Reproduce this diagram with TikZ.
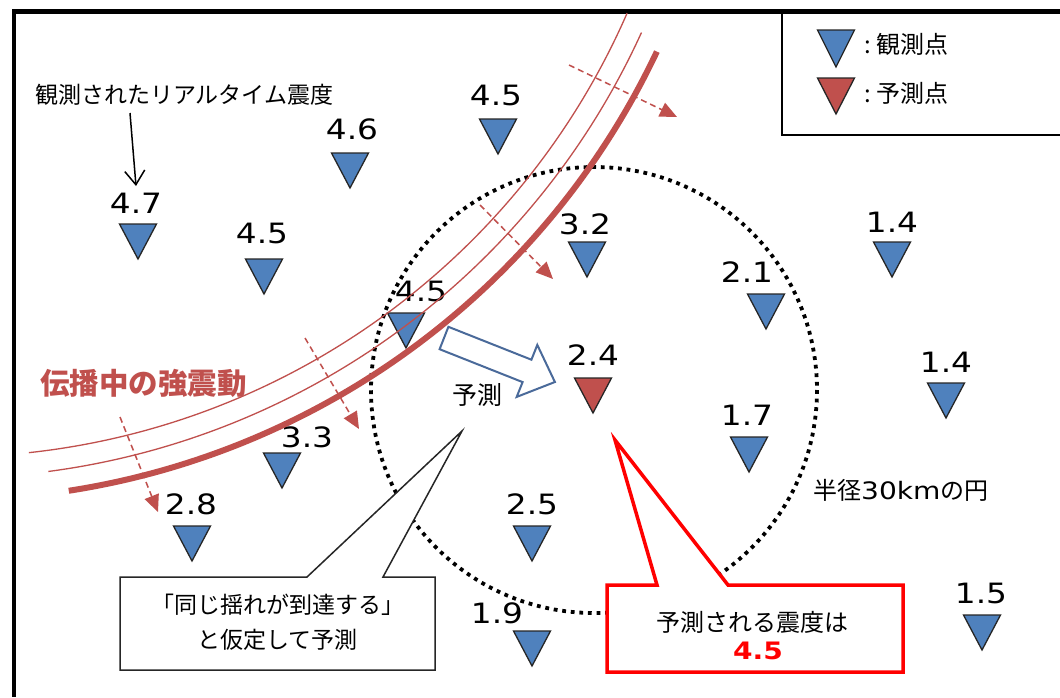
\documentclass[tikz,border=0pt]{standalone}
\usepackage{fontspec}
\newfontfamily\jp{Noto Sans CJK JP}
\newfontfamily\numf[FakeStretch=1.17]{DejaVu Sans}
\usetikzlibrary{arrows.meta,calc}
\definecolor{obsblue}{HTML}{4F81BD}
\definecolor{wavered}{HTML}{C0504D}
\definecolor{arrblue}{HTML}{4A6A9A}
\begin{document}
\begin{tikzpicture}[x=1pt,y=-1pt,
  tri/.style={draw=black!85,line width=1.3pt,line join=miter},
  obs/.pic={\path[tri,fill=obsblue] (-18.5,0) -- (18.5,0) -- (0,35) -- cycle;},
  pred/.pic={\path[tri,fill=wavered] (-18.5,0) -- (18.5,0) -- (0,35) -- cycle;},
  num/.style={font=\numf\fontsize{28}{30}\selectfont,anchor=base,inner sep=0pt},
  jpt/.style={font=\jp\fontsize{23}{28}\selectfont,inner sep=0pt},
  thinwave/.style={draw=wavered,line width=1.3pt},
  thickwave/.style={draw=wavered,line width=6pt},
  proparrow/.style={draw=wavered,line width=1.5pt,dash pattern=on 6pt off 4pt,-{Triangle[length=17pt,width=15pt]}},
  dotcircle/.style={draw=black,line width=3.8pt,dash pattern=on 3.8pt off 4.8pt},
  labarrow/.style={draw=black,line width=1.5pt,-{Straight Barb[length=14pt,width=20pt]}},
]
\useasboundingbox[fill=white] (0,0) rectangle (1060,697);

% frame
\draw[line width=5pt] (12,11) -- (1060,11);
\draw[line width=4.5pt] (14,9) -- (14,697);

% legend
\draw[line width=2pt] (782,11) -- (782,135) -- (1060,135);
\path[tri,fill=obsblue] (817.5,30) -- (854.5,30) -- (836,67) -- cycle;
\path[tri,fill=wavered] (817.5,78) -- (854.5,78) -- (836,114) -- cycle;
\node[jpt,font=\jp\fontsize{24}{28}\selectfont,anchor=west] (lg1) at (864,44) {:\hspace{6pt}観測点};
\node[jpt,font=\jp\fontsize{24}{28}\selectfont,anchor=west] (lg2) at (864,93) {:\hspace{6pt}予測点};

% stations
\pic at (138,224) {obs};
\pic at (264,259) {obs};
\pic at (350,153) {obs};
\pic at (498,119) {obs};
\pic at (406,313) {obs};
\pic at (587,242) {obs};
\pic at (766,294) {obs};
\pic at (892,242) {obs};
\pic at (946,383) {obs};
\pic at (593,378) {pred};
\pic at (749,437) {obs};
\pic at (282,453) {obs};
\pic at (192,526) {obs};
\pic at (532,526) {obs};
\pic at (532,631) {obs};
\pic at (982,615) {obs};

\node[num] (n1) at (136,213) {4.7};
\node[num] (n2) at (262,243) {4.5};
\node[num] (n3) at (352,139) {4.6};
\node[num] (n4) at (496,105) {4.5};
\node[num] (n5) at (421,301) {4.5};
\node[num] (n6) at (585,234) {3.2};
\node[num] (n7) at (747,282) {2.1};
\node[num] (n8) at (892,232) {1.4};
\node[num] (n9) at (946,372) {1.4};
\node[num] (n10) at (593,365) {2.4};
\node[num] (n11) at (747,425) {1.7};
\node[num] (n12) at (307,447) {3.3};
\node[num] (n13) at (191,514) {2.8};
\node[num] (n14) at (532,514) {2.5};
\node[num] (n15) at (497,623) {1.9};
\node[num] (n16) at (981,603) {1.5};

% 30 km circle
\coordinate (cc) at (594,390);
\draw[dotcircle] (cc) circle[radius=223];

% wave fronts
\coordinate (ep) at (-51,-283);
\draw[thinwave] (ep) ++(83.8:740) arc[start angle=83.8,end angle=23.6,radius=740];
\draw[thinwave] (ep) ++(82.5:761) arc[start angle=82.5,end angle=24.5,radius=761];
\draw[thickwave] (ep) ++(81.2:783) arc[start angle=81.2,end angle=25.3,radius=783];

% propagation arrows
\coordinate (d1s) at (569,65);  \coordinate (d1e) at (677,117);
\coordinate (d2s) at (480,205); \coordinate (d2e) at (553,279);
\coordinate (d3s) at (305,338); \coordinate (d3e) at (359,429);
\coordinate (d4s) at (120,417); \coordinate (d4e) at (158,512);
\draw[proparrow] (d1s) -- (d1e);
\draw[proparrow] (d2s) -- (d2e);
\draw[proparrow] (d3s) -- (d3e);
\draw[proparrow] (d4s) -- (d4e);

% label with arrow
\node[jpt,anchor=west] (lab) at (35,95) {観測されたリアルタイム震度};
\coordinate (la) at (130,113);
\coordinate (lb) at (136,186);
\draw[labarrow] (la) -- (lb);

% hollow prediction arrow
\draw[draw=arrblue,line width=2pt,fill=white,line join=miter]
  (448.4,326.8) -- (531.4,359.7) -- (537.3,344.9) -- (554.9,382.0)
  -- (516.7,396.9) -- (522.6,382.1) -- (439.6,349.2) -- cycle;
\node[jpt,font=\jp\fontsize{25}{28}\selectfont] (yosoku) at (477,395) {予測};

% propagating strong motion label
\node[font=\jp\bfseries\fontsize{29.5}{32}\selectfont,text=wavered,inner sep=0pt,anchor=west] (wl) at (40,383) {伝播中の強震動};

% radius label
\node[jpt,font=\jp\fontsize{24}{28}\selectfont,anchor=west] (rl) at (813,490) {半径{\numf 30km}の円};

% black callout
\draw[line width=1.5pt,draw=black!85,fill=white,line join=miter]
  (120,577) -- (307,577) -- (462,431) -- (383,577) -- (435,577)
  -- (435,670) -- (120,670) -- cycle;
\node[font=\jp\fontsize{23}{35}\selectfont,inner sep=0pt,align=center] (c1) at (277.5,622) {「同じ揺れが到達する」\\と仮定して予測};

% red callout
\draw[line width=3.5pt,draw=red,fill=white,line join=miter]
  (607,585) -- (657,585) -- (615,440) -- (728,585) -- (903,585)
  -- (903,672) -- (607,672) -- cycle;
\node[font=\jp\fontsize{24}{28}\selectfont,inner sep=0pt] (c2) at (752,622) {予測される震度は};
\node[font=\numf\bfseries\fontsize{24}{28}\selectfont,text=red,inner sep=0pt,anchor=base] (c2v) at (758,659) {4.5};
\end{tikzpicture}
\end{document}
